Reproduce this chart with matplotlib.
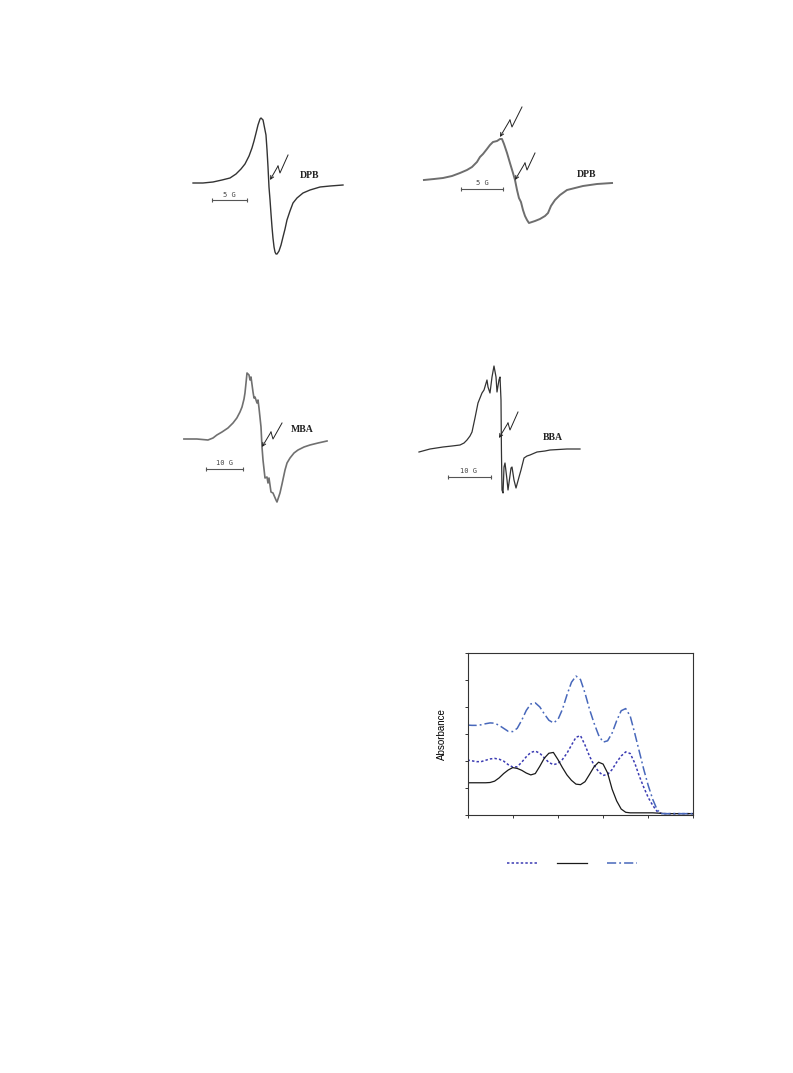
import matplotlib
matplotlib.use('Agg')
import matplotlib.pyplot as plt

# ---------------- EPR spectra (field offset in G, derivative signal in a.u.) ----------------
dpb1_field = [-10.71, -9.29, -7.86, -6.57, -5.43, -4.57, -3.86, -3.29, -2.71, -2.29, -2.0, -1.71,
              -1.43, -1.14, -1.0, -0.71, -0.57, -0.29, -0.14, 0.0, 0.14, 0.29, 0.43, 0.57, 0.71,
              0.86, 1.0, 1.14, 1.29, 1.57, 1.86, 2.14, 2.43, 2.71, 3.14, 3.57, 4.14, 5.0, 6.0,
              7.43, 8.86, 10.71]
dpb1_signal = [0.0, 0.0, 0.1, 0.3, 0.5, 0.9, 1.4, 1.9, 2.7, 3.5, 4.2, 5.0,
               5.8, 6.4, 6.5, 6.3, 5.8, 4.8, 3.3, 1.6, -0.4, -1.7, -3.1, -4.4, -5.5,
               -6.4, -6.9, -7.1, -7.1, -6.8, -6.2, -5.4, -4.6, -3.7, -2.8, -2.0, -1.5, -1.0, -0.7,
               -0.4, -0.3, -0.2]

dpb2_field = [-10.6, -9.40, -8.33, -7.26, -6.31, -5.48, -4.88, -4.29, -3.93, -3.57, -3.10, -2.74,
              -2.38, -1.90, -1.55, -1.31, -1.07, -0.71, -0.36, 0.0, 0.24, 0.48, 0.71, 0.95, 1.19,
              1.43, 1.67, 1.90, 2.26, 2.62, 3.21, 3.81, 4.17, 4.52, 5.0, 5.60, 6.43, 7.38, 8.33,
              10.0, 11.79]
dpb2_signal = [0.3, 0.4, 0.5, 0.7, 1.0, 1.3, 1.6, 2.1, 2.6, 2.9, 3.4, 3.8,
               4.1, 4.2, 4.4, 4.4, 3.9, 3.0, 2.0, 1.0, 0.3, -0.7, -1.5, -1.9, -2.7,
               -3.3, -3.7, -4.0, -3.9, -3.8, -3.6, -3.3, -3.0, -2.3, -1.7, -1.2, -0.7, -0.5, -0.3,
               -0.1, 0.0]

mba_field = [-21.1, -17.6, -14.6, -13.24, -12.2, -10.81, -9.2, -7.84, -6.8, -5.95, -5.4, -4.86,
             -4.6, -4.32, -4.05, -3.51, -3.24, -2.97, -2.43, -2.16, -1.89, -1.35, -1.08, -0.81,
             -0.27, 0.0, 0.27, 0.81, 1.35, 1.62, 1.89, 2.43, 2.97, 3.78, 4.05, 4.86, 5.41, 6.22,
             6.76, 7.57, 8.65, 9.73, 11.35, 12.97, 15.14, 17.57]
mba_signal = [0.1, 0.1, 0.0, 0.2, 0.5, 0.8, 1.2, 1.7, 2.2, 2.8, 3.3, 4.1,
              4.7, 5.7, 6.7, 6.5, 6.0, 6.3, 4.8, 4.2, 4.3, 3.7, 4.0, 3.2,
              1.3, -0.7, -2.0, -3.8, -3.7, -4.3, -3.8, -5.2, -5.3, -6.0, -6.2, -5.3, -4.4, -3.0,
              -2.3, -1.8, -1.3, -1.0, -0.7, -0.5, -0.3, -0.1]

bba_field = [-19.07, -16.51, -13.49, -11.40, -9.53, -8.60, -7.91, -7.21, -6.74, -6.05, -5.35,
             -4.42, -3.95, -3.26, -3.02, -2.56, -2.09, -1.63, -1.16, -0.93, -0.47, -0.23, 0.0,
             0.1, 0.23, 0.47, 0.70, 0.93, 1.40, 1.63, 2.33, 2.56, 3.02, 3.49, 4.19, 4.65, 5.35,
             6.05, 6.74, 8.37, 10.23, 11.40, 15.35, 18.37]
bba_signal = [-0.3, 0.0, 0.2, 0.3, 0.4, 0.6, 0.9, 1.3, 1.7, 3.1, 4.6,
              5.6, 5.9, 6.9, 6.2, 5.6, 7.2, 8.3, 7.2, 5.7, 6.9, 7.2, 4.9,
              -0.1, -4.1, -4.4, -1.8, -1.4, -3.1, -4.1, -1.9, -1.8, -3.1, -3.9, -2.8, -2.1, -0.9,
              -0.7, -0.6, -0.3, -0.2, -0.1, 0.0, 0.0]

epr_labels = ['DPB', 'DPB', 'MBA', 'BBA']
scale_labels = ['5 G', '5 G', '10 G', '10 G']

# ---------------- Absorbance spectra ----------------
abs_x = [0.0, 0.1, 0.2, 0.3, 0.4, 0.5, 0.6, 0.7, 0.8, 0.9, 1.0, 1.1, 1.2, 1.3, 1.4, 1.5, 1.6,
         1.7, 1.8, 1.9, 2.0, 2.1, 2.2, 2.3, 2.4, 2.5, 2.6, 2.7, 2.8, 2.9, 3.0, 3.1, 3.2, 3.3,
         3.4, 3.5, 3.6, 3.7, 3.8, 3.9, 4.0, 4.1, 4.2, 4.3, 4.4, 4.5, 4.6, 4.7, 4.8, 4.9, 5.0]
abs_dotted = [2.03, 2.00, 1.97, 1.97, 2.02, 2.07, 2.09, 2.06, 1.99, 1.86, 1.77, 1.78, 1.95, 2.15,
              2.31, 2.36, 2.28, 2.11, 1.94, 1.86, 1.90, 2.05, 2.28, 2.58, 2.87, 2.93, 2.58, 2.17,
              1.84, 1.60, 1.46, 1.50, 1.68, 1.95, 2.18, 2.33, 2.27, 1.92, 1.44, 1.02, 0.64, 0.35,
              0.12, 0.05, 0.05, 0.05, 0.05, 0.05, 0.05, 0.05, 0.05]
abs_solid = [1.19, 1.19, 1.19, 1.19, 1.19, 1.20, 1.25, 1.37, 1.53, 1.66, 1.75, 1.72, 1.65, 1.55,
             1.48, 1.53, 1.80, 2.10, 2.28, 2.31, 2.05, 1.75, 1.48, 1.28, 1.14, 1.12, 1.23, 1.50,
             1.78, 1.95, 1.88, 1.55, 0.95, 0.52, 0.22, 0.10, 0.08, 0.08, 0.08, 0.08, 0.08, 0.08,
             0.07, 0.06, 0.05, 0.05, 0.05, 0.05, 0.05, 0.05, 0.05]
abs_dashdot = [3.32, 3.31, 3.31, 3.33, 3.37, 3.40, 3.39, 3.31, 3.20, 3.09, 3.08, 3.20, 3.50, 3.86,
               4.10, 4.14, 3.99, 3.73, 3.50, 3.40, 3.52, 3.90, 4.43, 4.90, 5.13, 5.00, 4.50, 3.90,
               3.39, 2.95, 2.69, 2.74, 3.03, 3.48, 3.85, 3.93, 3.65, 3.02, 2.35, 1.68, 1.08, 0.57,
               0.18, 0.05, 0.05, 0.05, 0.05, 0.05, 0.05, 0.05, 0.05]
abs_xticks = [0, 1, 2, 3, 4, 5]
abs_yticks = [0, 1, 2, 3, 4, 5, 6]

W, H = 793, 1073
fig = plt.figure(figsize=(W / 100, H / 100), dpi=100)
fig.patch.set_facecolor('white')


def px_axes(x0, y0, x1, y1):
    return fig.add_axes([x0 / W, 1 - y1 / H, (x1 - x0) / W, (y1 - y0) / H])


def epr_panel(rect, xlim, ylim, field, signal, color, lw, label, label_xy,
              bar, bar_label, bar_label_xy, arrows):
    ax = px_axes(*rect)
    ax.set_xlim(*xlim)
    ax.set_ylim(*ylim)
    ax.axis('off')
    ax.plot(field, signal, color=color, lw=lw, solid_joinstyle='round')
    ax.text(label_xy[0], label_xy[1], label, family='Liberation Serif', weight='bold',
            fontsize=7, color='#222222', ha='center', va='center')
    ax.plot([bar[0], bar[1]], [bar[2], bar[2]], color='#555555', lw=0.8,
            marker='|', markersize=3, markeredgewidth=0.8)
    ax.text(bar_label_xy[0], bar_label_xy[1], bar_label, family='DejaVu Sans Mono',
            fontsize=5, color='#444444', ha='center', va='center')
    for arr in arrows:
        tip, a, b, top = arr
        ax.plot([top[0], a[0], b[0]], [top[1], a[1], b[1]], color='#222222', lw=0.7)
        ax.annotate('', xy=tip, xytext=b,
                    arrowprops=dict(arrowstyle='->', lw=0.7, color='#222222',
                                    shrinkA=0, shrinkB=0, mutation_scale=6))
    return ax


# Panel 1: DPB (left)
epr_panel((180, 100, 360, 270), (-12.57, 13.14), (-8.7, 8.3), dpb1_field, dpb1_signal,
          '#333333', 1.0, epr_labels[0], (6.0, 0.8),
          (-8.0, -3.0, -1.7), scale_labels[0], (-5.5, -1.2),
          [((0.29, 0.3), (1.71, 1.0), (1.43, 1.7), (2.86, 2.8))])

# Panel 2: DPB (right)
epr_panel((410, 95, 640, 245), (-12.26, 15.12), (-6.2, 8.8), dpb2_field, dpb2_signal,
          '#6e6e6e', 1.4, epr_labels[1], (8.81, 0.8),
          (-6.19, -1.19, -0.6), scale_labels[1], (-3.69, 0.0),
          [((-1.55, 4.6), (-0.12, 5.6), (-0.36, 6.3), (1.07, 7.6)),
           ((0.24, 0.3), (1.67, 1.3), (1.43, 2.0), (2.62, 3.0))])

# Panel 3: MBA
epr_panel((170, 355, 350, 515), (-24.86, 23.78), (-7.5, 8.5), mba_field, mba_signal,
          '#707070', 1.2, epr_labels[2], (10.81, 1.0),
          (-15.14, -5.14, -2.9), scale_labels[2], (-10.0, -2.3),
          [((0.0, -0.7), (2.97, 0.1), (2.43, 0.8), (5.41, 1.7))])

# Panel 4: BBA
epr_panel((410, 350, 600, 510), (-21.16, 23.02), (-6.1, 9.9), bba_field, bba_signal,
          '#333333', 0.9, epr_labels[3], (12.09, 1.2),
          (-12.33, -2.33, -2.8), scale_labels[3], (-7.67, -2.2),
          [((-0.47, 1.1), (2.09, 1.9), (1.63, 2.6), (3.95, 3.7))])

# ---------------- Absorbance chart ----------------
ax = px_axes(467.5, 652.5, 693.5, 815)
c_dot = '#3b3bb3'
c_dd = '#4868bb'
l1, = ax.plot(abs_x, abs_dotted, color=c_dot, lw=1.1, linestyle=(0, (1.6, 1.4)))
l2, = ax.plot(abs_x, abs_solid, color='#1a1a1a', lw=0.9)
l3, = ax.plot(abs_x, abs_dashdot, color=c_dd, lw=1.1, linestyle=(0, (6, 2, 1.2, 2)))
ax.set_xlim(0, 5)
ax.set_ylim(0, 6)
ax.set_xticks(abs_xticks)
ax.set_yticks(abs_yticks)
ax.set_xticklabels([])
ax.set_yticklabels([])
ax.tick_params(direction='out', length=2.5, width=0.7, color='#333333')
for sp in ax.spines.values():
    sp.set_linewidth(0.8)
    sp.set_color('#333333')
ax.set_ylabel('Absorbance', family='Liberation Sans', fontsize=7, labelpad=9)

fig.legend([l1, l2, l3], ['', '', ''], loc='center', bbox_to_anchor=(573 / W, 1 - 863 / H),
           ncol=3, frameon=False, fontsize=7, handlelength=3.1, handletextpad=0.2,
           columnspacing=1.85)

fig.savefig('out.png', dpi=100, facecolor='white')
